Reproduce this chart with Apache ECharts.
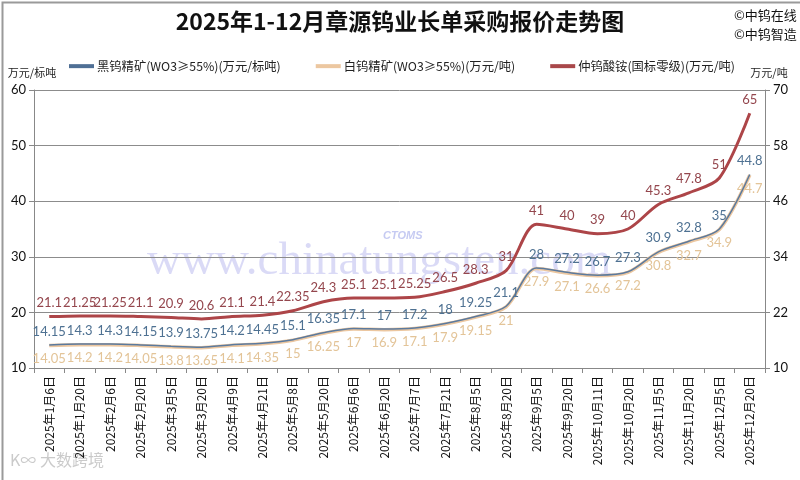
<!DOCTYPE html>
<html>
<head>
<meta charset="utf-8">
<script src="https://cdn.jsdelivr.net/npm/echarts@6/dist/echarts.min.js"></script>
<style>
html,body{margin:0;padding:0;background:#fff;}
#main{width:800px;height:480px;}
</style>
</head>
<body>
<div id="main"></div>
<script>
const categories = ['2025年1月6日','2025年1月20日','2025年2月6日','2025年2月20日','2025年3月5日','2025年3月20日','2025年4月9日','2025年4月21日','2025年5月8日','2025年5月20日','2025年6月6日','2025年6月20日','2025年7月7日','2025年7月21日','2025年8月5日','2025年8月20日','2025年9月5日','2025年9月20日','2025年10月11日','2025年10月20日','2025年11月5日','2025年11月20日','2025年12月5日','2025年12月20日'];
const blackTungsten = [14.15,14.3,14.3,14.15,13.9,13.75,14.2,14.45,15.1,16.35,17.1,17,17.2,18,19.25,21.1,28,27.2,26.7,27.3,30.9,32.8,35,44.8];
const whiteTungsten = [14.05,14.2,14.2,14.05,13.8,13.65,14.1,14.35,15,16.25,17,16.9,17.1,17.9,19.15,21,27.9,27.1,26.6,27.2,30.8,32.7,34.9,44.7];
const apt = [21.1,21.25,21.25,21.1,20.9,20.6,21.1,21.4,22.35,24.3,25.1,25.1,25.25,26.5,28.3,31,41,40,39,40,45.3,47.8,51,65];
const seriesNames = ['黑钨精矿(WO3≥55%)(万元/标吨)','白钨精矿(WO3≥55%)(万元/吨)','仲钨酸铵(国标零级)(万元/吨)'];
const leftAxisName = '万元/标吨';
const rightAxisName = '万元/吨';

const cjk = '"Noto Sans CJK SC", sans-serif';
const num = 'Lato, "Noto Sans", sans-serif';
const chart = echarts.init(document.getElementById('main'));
chart.setOption({
  animation: false,
  backgroundColor: '#fff',
  title: {
    text: '2025年1-12月章源钨业长单采购报价走势图',
    left: 'center', top: 5,
    textStyle: {fontFamily: cjk, fontSize: 23, fontWeight: 'bold', color: '#111'}
  },
  graphic: [
    {type: 'rect', left: 0, top: 0, shape: {width: 799, height: 479}, style: {fill: 'none', stroke: '#9a9a9a', lineWidth: 2}, z: -1},
    {type: 'text', left: 734, top: 9, style: {text: '©中钨在线', font: '13px "Noto Sans CJK SC"', fill: '#111'}},
    {type: 'text', left: 734, top: 28, style: {text: '©中钨智造', font: '13px "Noto Sans CJK SC"', fill: '#111'}},
    {type: 'text', left: 147, top: 238, z: 0, style: {text: 'www.chinatungsten.com', font: '47px "Liberation Serif", serif', fill: 'rgba(150,150,230,0.35)'}},
    {type: 'text', left: 383, top: 230, z: 0, style: {text: 'CTOMS', font: 'italic bold 11px "Liberation Sans"', fill: 'rgba(140,150,230,0.5)'}},
    {type: 'text', left: 10, top: 452, z: 0, style: {text: 'K∞ 大数跨境', font: '16px "Noto Sans CJK SC"', fill: 'rgba(180,180,180,0.7)'}}
  ],
  legend: {
    top: 55, left: 64, itemGap: 35, itemWidth: 25, itemHeight: 4, icon: 'rect',
    textStyle: {fontFamily: cjk, fontSize: 12.3, color: '#222', padding: [0, 0, 0, -2]},
    data: seriesNames
  },
  grid: {left: 34, right: 35, top: 90, bottom: 112},
  xAxis: {
    type: 'category', data: categories, boundaryGap: true,
    axisLine: {lineStyle: {color: '#888'}},
    axisTick: {show: true, interval: 0, length: 5, lineStyle: {color: '#888'}},
    axisLabel: {interval: 0, rotate: 90, fontFamily: cjk, fontSize: 12, color: '#111', margin: 8}
  },
  yAxis: [
    {
      type: 'value', min: 10, max: 60, interval: 10, position: 'left',
      name: leftAxisName, nameLocation: 'end', nameGap: 12,
      nameTextStyle: {fontFamily: cjk, fontSize: 11, color: '#222', align: 'center', padding: [0, 0, 0, -4]},
      axisLine: {show: true, lineStyle: {color: '#888'}},
      axisTick: {show: true, length: 5, lineStyle: {color: '#888'}},
      axisLabel: {fontFamily: num, fontSize: 13, color: '#111', margin: 8},
      splitLine: {show: true, lineStyle: {color: '#8c8c8c', width: 1}}
    },
    {
      type: 'value', min: 10, max: 70, interval: 12, position: 'right',
      name: rightAxisName, nameLocation: 'end', nameGap: 12,
      nameTextStyle: {fontFamily: cjk, fontSize: 11, color: '#222', align: 'center', padding: [0, 0, 0, 8]},
      axisLine: {show: true, lineStyle: {color: '#888'}},
      axisTick: {show: true, length: 5, lineStyle: {color: '#888'}},
      axisLabel: {fontFamily: num, fontSize: 13, color: '#111', margin: 8},
      splitLine: {show: false}
    }
  ],
  series: [
    {
      name: seriesNames[1], type: 'line', yAxisIndex: 0, data: whiteTungsten,
      smooth: 0.3, showSymbol: true, symbol: 'circle', symbolSize: 0.1, z: 3,
      lineStyle: {color: '#ecc7a0', width: 3.5},
      itemStyle: {color: '#ecc7a0'},
      label: {show: true, position: 'bottom', distance: 7, fontFamily: num, fontSize: 13, color: '#e3c498'}
    },
    {
      name: seriesNames[0], type: 'line', yAxisIndex: 0, data: blackTungsten,
      smooth: 0.3, showSymbol: true, symbol: 'circle', symbolSize: 0.1, z: 4,
      lineStyle: {color: '#5b7a9e', width: 1.5},
      itemStyle: {color: '#4f6f95'},
      label: {show: true, position: 'top', distance: 7, fontFamily: num, fontSize: 13, color: '#4e7192'}
    },
    {
      name: seriesNames[2], type: 'line', yAxisIndex: 1, data: apt,
      smooth: 0.3, showSymbol: true, symbol: 'circle', symbolSize: 0.1, z: 5,
      lineStyle: {color: '#ad4548', width: 3},
      itemStyle: {color: '#a9484a'},
      label: {show: true, position: 'top', distance: 7, fontFamily: num, fontSize: 13, color: '#94464d'}
    }
  ]
});
</script>
</body>
</html>
